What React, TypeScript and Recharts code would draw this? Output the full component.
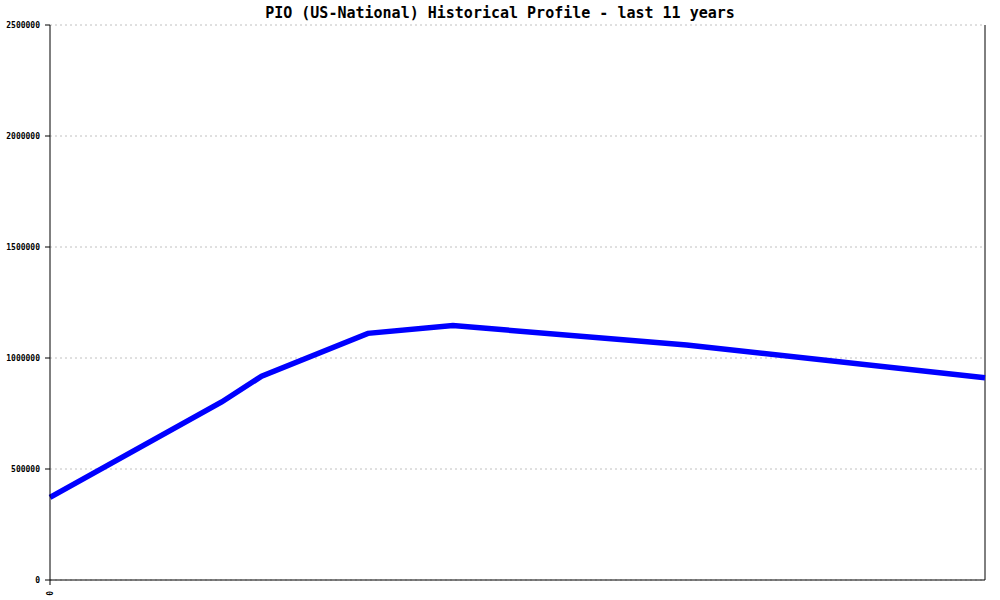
import React from 'react';
import { LineChart, Line, XAxis, YAxis, CartesianGrid, ReferenceLine } from 'recharts';

const titleText = 'PIO (US-National) Historical Profile - last 11 years';
const timePoints = [0, 2.02, 2.49, 3.74, 4.74, 7.49, 11];
const seriesValues = [372000, 802000, 918000, 1111000, 1146000, 1059000, 911000];
const yTicks = [0, 500000, 1000000, 1500000, 2000000, 2500000];
const xTicks = [0];
const xTickLabels = ['0'];

const data = timePoints.map((t, i) => ({ t, v: seriesValues[i] }));

const FONT = '"DejaVu Sans Mono", "Liberation Mono", monospace';

const XTick = (props: any) => {
  const { x, y, index } = props;
  return (
    <g transform={`translate(${x},${y})`}>
      <text transform="rotate(-90)" x={-4} dy={3} textAnchor="end" fontSize={8} fontFamily={FONT} fontWeight="bold" fill="#000">
        {xTickLabels[index] ?? ''}
      </text>
    </g>
  );
};

export default function App() {
  return (
    <div style={{ position: 'absolute', left: 0, top: 0, width: 1000, height: 600, background: '#fff' }}>
      <div style={{ position: 'absolute', left: 0, top: 4, width: 1000, textAlign: 'center', fontFamily: FONT, fontWeight: 'bold', fontSize: 15, lineHeight: '18px', color: '#000' }}>
        {titleText}
      </div>
      <LineChart width={1000} height={600} data={data} margin={{ top: 25, right: 15, left: 0, bottom: 0 }}>
        <CartesianGrid vertical={false} stroke="#c0c0c0" strokeDasharray="2 3" />
        <XAxis
          dataKey="t"
          type="number"
          domain={[0, 11]}
          ticks={xTicks}
          height={20}
          tickSize={5}
          stroke="#000"
          axisLine={{ stroke: '#000' }}
          tickLine={{ stroke: '#000' }}
          tick={<XTick />}
          interval={0}
        />
        <YAxis
          type="number"
          domain={[0, 2500000]}
          ticks={yTicks}
          width={50}
          tickSize={5}
          tickMargin={5}
          interval={0}
          axisLine={{ stroke: '#000' }}
          tickLine={{ stroke: '#000' }}
          tick={{ fontSize: 8, fontFamily: FONT, fontWeight: 'bold', fill: '#000' }}
        />
        <ReferenceLine x={11} stroke="#000" strokeWidth={1} />
        <Line type="linear" dataKey="v" stroke="#0000ff" strokeWidth={5.5} dot={false} isAnimationActive={false} />
      </LineChart>
    </div>
  );
}
